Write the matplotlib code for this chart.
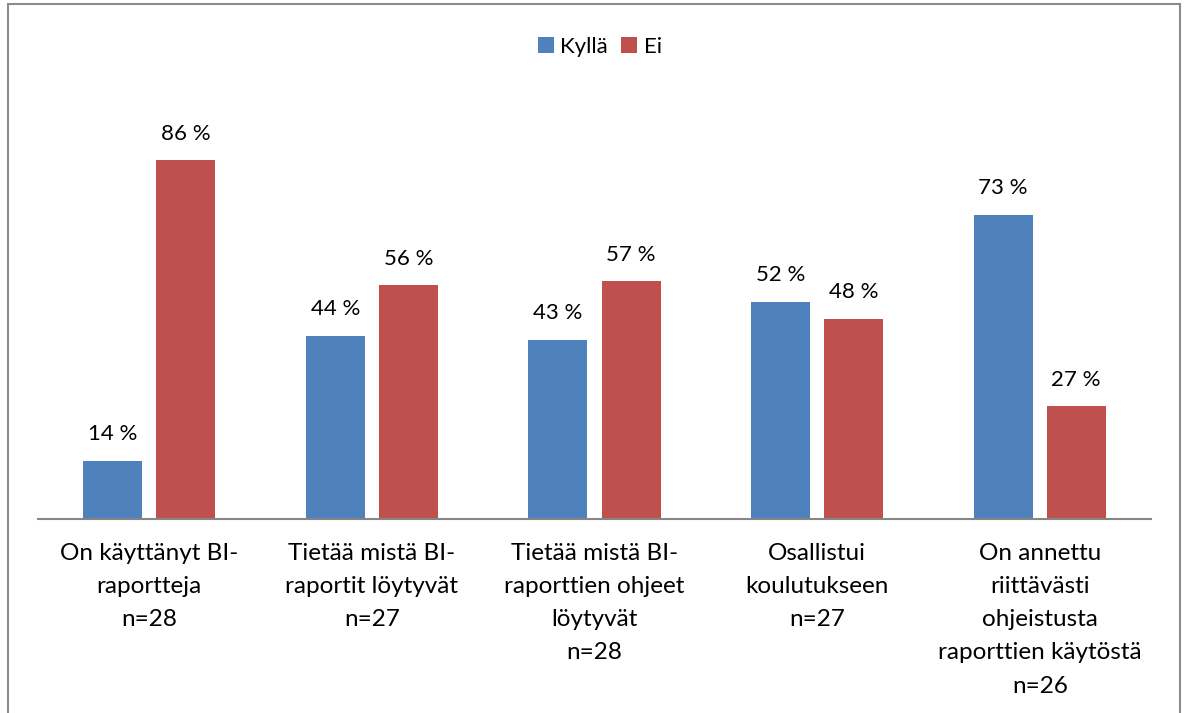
import matplotlib
matplotlib.use("Agg")
import matplotlib.pyplot as plt
import numpy as np
from matplotlib.lines import Line2D

categories = ["On käyttänyt BI-\nraportteja\nn=28",
              "Tietää mistä BI-\nraportit löytyvät\nn=27",
              "Tietää mistä BI-\nraporttien ohjeet\nlöytyvät\nn=28",
              "Osallistui\nkoulutukseen\nn=27",
              "On annettu\nriittävästi\nohjeistusta\nraporttien käytöstä\nn=26"]
kylla = [14, 44, 43, 52, 73]
ei = [86, 56, 57, 48, 27]
series_names = ["Kyllä", "Ei"]

plt.rcParams['font.family'] = ['Lato', 'DejaVu Sans']

W, H = 1188, 713
fig = plt.figure(figsize=(W/100, H/100), dpi=100)
ax = fig.add_axes([38/W, (H-519)/H, (1151-38)/W, (519-102)/H])

x = np.arange(len(categories))
bw = 0.265
gap = 0.063
b1 = ax.bar(x - (bw+gap)/2, kylla, bw, color='#4F81BD', label=series_names[0])
b2 = ax.bar(x + (bw+gap)/2, ei, bw, color='#C0504D', label=series_names[1])

for bars, vals in ((b1, kylla), (b2, ei)):
    for r, v in zip(bars, vals):
        ax.annotate(f"{v} %", (r.get_x()+r.get_width()/2, v), xytext=(0, 12),
                    textcoords='offset points', ha='center', va='bottom', fontsize=16)

ax.set_xlim(-0.5, len(categories)-0.5)
ax.set_ylim(0, 100)
ax.set_xticks(x)
ax.set_xticklabels(categories, fontsize=17.5, linespacing=1.72)
ax.tick_params(axis='x', length=0, pad=17)
ax.set_yticks([])
for s in ['top', 'right', 'left']:
    ax.spines[s].set_visible(False)
ax.spines['bottom'].set_color('#868686')
ax.spines['bottom'].set_linewidth(1.5)

fig.legend(handles=[b1, b2], loc='center', bbox_to_anchor=(600/W, 1-47/H), ncol=2,
           frameon=False, fontsize=16, handlelength=0.7, handleheight=0.7,
           handletextpad=0.3, columnspacing=0.6)

# outer frame
kw = dict(transform=fig.transFigure, color='#8C8C8C', linewidth=1.5)
fig.add_artist(Line2D([8/W, 8/W], [0, 1-4/H], **kw))
fig.add_artist(Line2D([1180/W, 1180/W], [0, 1-4/H], **kw))
fig.add_artist(Line2D([8/W, 1180/W], [1-4/H, 1-4/H], **kw))

fig.savefig("out.png", dpi=100)
